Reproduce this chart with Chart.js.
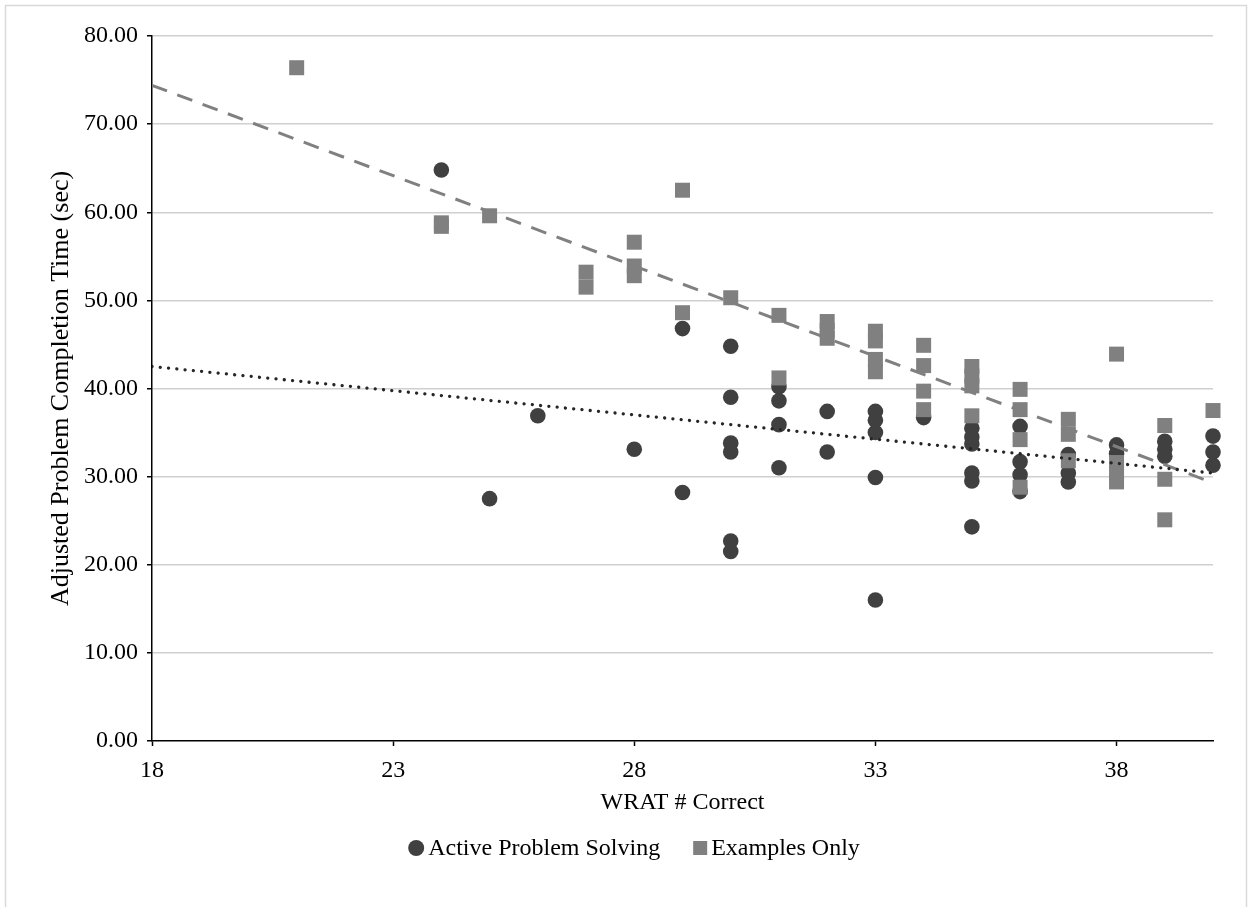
<!DOCTYPE html>
<html>
<head>
<meta charset="utf-8">
<title>WRAT vs completion time</title>
<script src="https://cdn.jsdelivr.net/npm/chart.js@4/dist/chart.umd.min.js"></script>
<style>
  html, body { margin: 0; padding: 0; background: #fff; }
  #wrap { width: 1253px; height: 907px; position: relative; }
</style>
</head>
<body>
<div id="wrap"><canvas id="scatterChart"></canvas></div>
<script>
// WRAT score (x) and adjusted completion time in seconds (y)
const activeX = [24, 25, 26, 28, 29, 29, 30, 30, 30, 30, 30, 30, 31, 31, 31, 31, 32, 32,
                 33, 33, 33, 33, 33, 34, 35, 35, 35, 35, 35, 35, 36, 36, 36, 36, 37, 37, 37,
                 38, 38, 39, 39, 39, 40, 40, 40];
const activeY = [64.8, 27.5, 36.9, 33.1, 46.8, 28.2, 44.8, 39.0, 33.8, 32.8, 22.7, 21.5,
                 40.2, 38.6, 35.9, 31.0, 37.4, 32.8, 37.4, 36.4, 35.0, 29.9, 16.0, 36.7,
                 35.5, 34.5, 33.7, 30.4, 29.5, 24.3, 35.7, 31.7, 30.2, 28.3, 32.5, 30.4, 29.4,
                 33.6, 32.6, 34.0, 33.1, 32.3, 34.6, 32.8, 31.3];

const examplesX = [21, 24, 24, 25, 27, 27, 28, 28, 28, 29, 29, 30, 31, 31, 32, 32, 32,
                   33, 33, 33, 33, 34, 34, 34, 34, 35, 35, 35, 35, 36, 36, 36, 36,
                   37, 37, 37, 38, 38, 38, 38, 39, 39, 39, 40];
const examplesY = [76.4, 58.8, 58.4, 59.6, 53.2, 51.5, 56.6, 53.9, 52.8, 62.5, 48.6, 50.3,
                   48.3, 41.2, 47.6, 46.6, 45.7, 46.5, 45.4, 43.3, 41.9, 44.9, 42.6, 39.7, 37.6,
                   42.5, 41.4, 40.3, 36.9, 39.9, 37.6, 34.2, 28.8, 36.5, 34.8, 31.8,
                   43.9, 31.6, 30.4, 29.4, 35.8, 29.7, 25.1, 37.5];

// linear trend lines, end points at x = 18 and x = 40
const trendActive = [[18, 42.5], [40, 30.4]];
const trendExamples = [[18, 74.4], [40, 29.3]];

const xTicks = [18, 23, 28, 33, 38];
const yTicks = [0, 10, 20, 30, 40, 50, 60, 70, 80];

const toPoints = (xs, ys) => xs.map((x, i) => ({ x: x, y: ys[i] }));
const pairPoints = pairs => pairs.map(p => ({ x: p[0], y: p[1] }));

const serif = "'Liberation Serif', 'Times New Roman', serif";

// light frame around the whole figure
const framePlugin = {
  id: 'frame',
  beforeDraw(chart) {
    const ctx = chart.ctx;
    ctx.save();
    ctx.fillStyle = '#fff';
    ctx.fillRect(0, 0, chart.width, chart.height);
    ctx.strokeStyle = '#d9d9d9';
    ctx.lineWidth = 1.5;
    ctx.strokeRect(5.5, 5.5, 1241, 920);
    ctx.restore();
  }
};

// legend for the two marker series (trend lines left out), drawn under the axis title
const markerLegend = {
  id: 'markerLegend',
  afterDraw(chart) {
    const ctx = chart.ctx;
    const centerX = 634, y = 848, textGap = 4, itemGap = 33;
    const items = chart.data.datasets
      .filter(ds => ds.type !== 'line')
      .reverse();
    ctx.save();
    ctx.font = '24px ' + serif;
    ctx.textBaseline = 'middle';
    const sizes = items.map(ds => (ds.pointStyle === 'rect' ? 14 : 16));
    const widths = items.map((ds, i) => sizes[i] + textGap + ctx.measureText(ds.label).width);
    const total = widths.reduce((a, b) => a + b, 0) + itemGap * (items.length - 1);
    let x = centerX - total / 2;
    items.forEach((ds, i) => {
      const s = sizes[i];
      ctx.fillStyle = ds.backgroundColor;
      if (ds.pointStyle === 'rect') {
        ctx.fillRect(x, y - s / 2, s, s);
      } else {
        ctx.beginPath();
        ctx.arc(x + s / 2, y, s / 2, 0, Math.PI * 2);
        ctx.fill();
      }
      ctx.fillStyle = '#000';
      ctx.fillText(ds.label, x + s + textGap, y + 1);
      x += widths[i] + itemGap;
    });
    ctx.restore();
  }
};

const ctx = document.getElementById('scatterChart').getContext('2d');
new Chart(ctx, {
  type: 'scatter',
  data: {
    datasets: [
      {
        label: 'Linear (Active Problem Solving)',
        type: 'line',
        data: pairPoints(trendActive),
        borderColor: '#262626',
        borderWidth: 3.3,
        borderDash: [0.01, 8.3],
        borderCapStyle: 'round',
        pointRadius: 0,
        fill: false
      },
      {
        label: 'Linear (Examples Only)',
        type: 'line',
        data: pairPoints(trendExamples),
        borderColor: '#808080',
        borderWidth: 3,
        borderDash: [16, 11],
        pointRadius: 0,
        fill: false
      },
      {
        label: 'Examples Only',
        data: toPoints(examplesX, examplesY),
        pointStyle: 'rect',
        pointRadius: 10.6,
        pointHoverRadius: 10.6,
        backgroundColor: '#808080',
        borderColor: '#808080',
        borderWidth: 0,
        clip: false
      },
      {
        label: 'Active Problem Solving',
        data: toPoints(activeX, activeY),
        pointStyle: 'circle',
        pointRadius: 7.8,
        pointHoverRadius: 7.8,
        backgroundColor: '#404040',
        borderColor: '#404040',
        borderWidth: 0,
        clip: false
      }
    ]
  },
  options: {
    responsive: true,
    maintainAspectRatio: false,
    animation: false,
    layout: { padding: { left: 6, right: 40, top: 36, bottom: 86 } },
    scales: {
      x: {
        type: 'linear',
        min: 18,
        max: 40,
        afterBuildTicks: scale => { scale.ticks = xTicks.map(v => ({ value: v })); },
        afterFit: scale => { scale.height = 80; },
        grid: { drawOnChartArea: false, tickLength: 5, tickColor: '#000', tickWidth: 1.5 },
        border: { color: '#000', width: 1.5 },
        ticks: { color: '#000', padding: 10, font: { family: serif, size: 24 } },
        title: {
          display: true,
          text: 'WRAT # Correct',
          color: '#000',
          padding: { top: 4, bottom: 4 },
          font: { family: serif, size: 24 }
        }
      },
      y: {
        min: 0,
        max: 80,
        afterBuildTicks: scale => { scale.ticks = yTicks.map(v => ({ value: v })); },
        afterFit: scale => { scale.width = 146; },
        grid: {
          color: c => (c.tick && c.tick.value === 0 ? 'rgba(0,0,0,0)' : '#d0d0d0'),
          lineWidth: 1.5,
          tickLength: 5,
          tickColor: '#000',
          tickWidth: 1.5
        },
        border: { color: '#000', width: 1.5 },
        ticks: {
          color: '#000',
          padding: 9,
          font: { family: serif, size: 24 },
          callback: v => Number(v).toFixed(2)
        },
        title: {
          display: true,
          text: 'Adjusted Problem Completion Time (sec)',
          color: '#000',
          padding: { top: 40, bottom: 4 },
          font: { family: serif, size: 26 }
        }
      }
    },
    plugins: {
      legend: { display: false },
      tooltip: { enabled: false }
    }
  },
  plugins: [framePlugin, markerLegend]
});
</script>
</body>
</html>
